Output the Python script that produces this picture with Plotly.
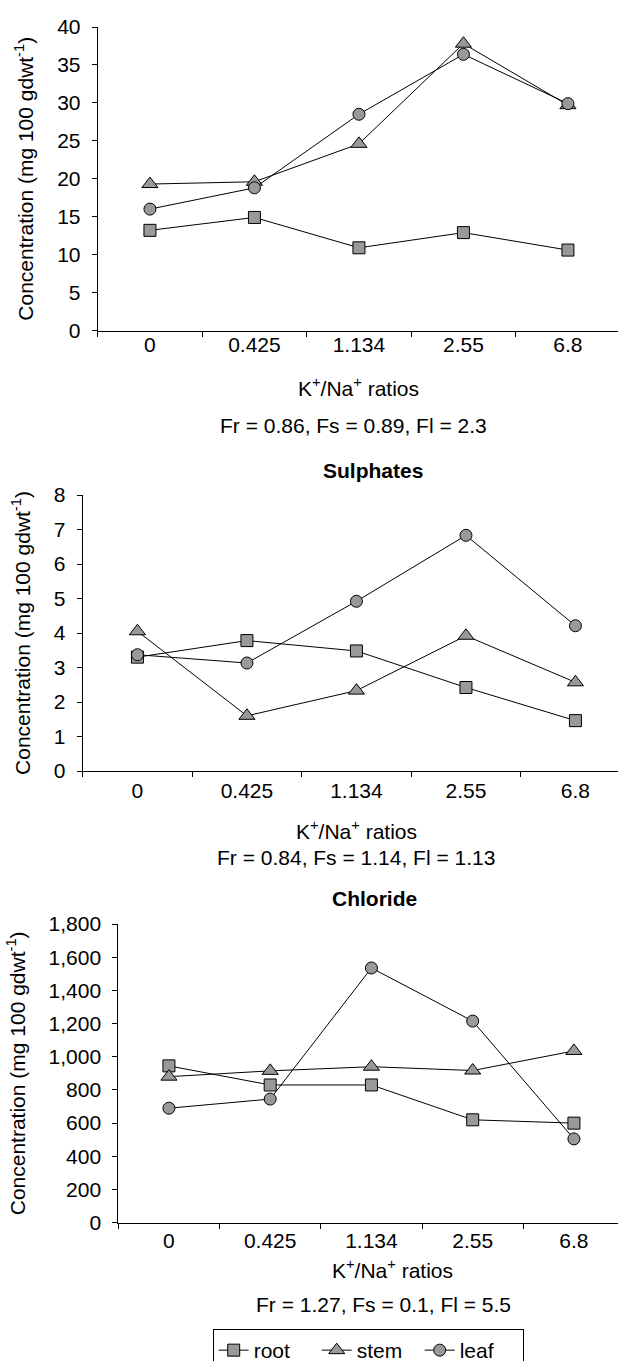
import plotly.graph_objects as go

# ---------------- data ----------------
categories = ["0", "0.425", "1.134", "2.55", "6.8"]
series_names = ["root", "stem", "leaf"]

top_root = [13.2, 14.9, 10.9, 12.9, 10.6]
top_stem = [19.3, 19.6, 24.6, 37.8, 29.7]
top_leaf = [16.0, 18.8, 28.5, 36.4, 29.9]

sul_root = [3.3, 3.78, 3.48, 2.42, 1.46]
sul_stem = [4.05, 1.6, 2.33, 3.92, 2.57]
sul_leaf = [3.37, 3.13, 4.92, 6.83, 4.21]

chl_root = [945, 830, 830, 620, 600]
chl_stem = [880, 915, 940, 917, 1035]
chl_leaf = [690, 745, 1535, 1215, 505]

panel_titles = ["", "Sulphates", "Chloride"]
stats_text = ["Fr = 0.86, Fs = 0.89, Fl = 2.3",
              "Fr = 0.84, Fs = 1.14, Fl = 1.13",
              "Fr = 1.27, Fs = 0.1, Fl = 5.5"]
y_max = [40, 8, 1800]
y_dtick = [5, 1, 200]

# ---------------- layout constants ----------------
W, H = 618, 1361
FONT = "Liberation Sans, Arial, Helvetica, sans-serif"
FS = 21
MARKER_FILL = "#999999"
symbols = ["square", "triangle-up", "circle"]
msizes = [12, 14, 12]

# pixel geometry of each panel: (axis_left, plot_top, plot_bottom, category_spacing)
panels = [(97.7, 27.0, 330.5, 104.5),
          (82.7, 495.0, 771.0, 109.5),
          (118.3, 924.0, 1222.7, 101.25)]
xtitle_pos = [(358, 386.7), (356, 830), (392, 1269.3)]
stats_pos = [(353, 425), (356, 857), (383, 1304.3)]
ptitle_pos = [None, (373, 471), (375, 898)]
xlabel_standoff = [-5, 1, -1]


def px(x):
    return x / W


def py(y):
    return 1 - y / H


data_sets = [[top_root, top_stem, top_leaf],
             [sul_root, sul_stem, sul_leaf],
             [chl_root, chl_stem, chl_leaf]]

fig = go.Figure()
annotations = []

for i, (vals, geom) in enumerate(zip(data_sets, panels)):
    axl, ptop, pbot, spacing = geom
    xa = "x" if i == 0 else f"x{i+1}"
    ya = "y" if i == 0 else f"y{i+1}"
    for k, name in enumerate(series_names):
        fig.add_trace(go.Scatter(
            x=categories, y=vals[k], name=name, mode="lines+markers",
            xaxis=xa, yaxis=ya, legendgroup=name, showlegend=(i == 0),
            line=dict(color="black", width=1),
            marker=dict(symbol=symbols[k], size=msizes[k], color=MARKER_FILL,
                        line=dict(color="black", width=1)),
            cliponaxis=False,
        ))
    xend = -0.5 + (W - axl) / spacing
    xkey = "xaxis" if i == 0 else f"xaxis{i+1}"
    ykey = "yaxis" if i == 0 else f"yaxis{i+1}"
    fig.layout[xkey] = dict(
        domain=[px(axl), 1.0], anchor=ya, type="category",
        range=[-0.5, xend], tickson="boundaries", ticks="outside",
        ticklen=5, tickcolor="black", showline=True, linecolor="black",
        linewidth=1, showgrid=False, zeroline=False, automargin=False,
        ticklabelstandoff=xlabel_standoff[i],
        tickfont=dict(family=FONT, size=FS, color="black"),
    )
    fig.layout[ykey] = dict(
        domain=[py(pbot), py(ptop)], anchor=xa, range=[0, y_max[i]],
        dtick=y_dtick[i], tick0=0, tickformat=",d", ticks="outside",
        ticklen=5, tickcolor="black", showline=True, linecolor="black",
        linewidth=1, showgrid=False, zeroline=False, automargin=False,
        ticklabelstandoff=7,
        tickfont=dict(family=FONT, size=FS, color="black"),
        title=dict(text="Concentration (mg 100 gdwt<sup>-1</sup>)",
                   font=dict(family=FONT, size=FS, color="black"),
                   standoff=17),
    )
    tx, ty = xtitle_pos[i]
    annotations.append(dict(text="K<sup>+</sup>/Na<sup>+</sup> ratios",
                            x=px(tx), y=py(ty), xref="paper", yref="paper",
                            xanchor="center", yanchor="middle", showarrow=False,
                            font=dict(family=FONT, size=FS, color="black")))
    sx, sy = stats_pos[i]
    annotations.append(dict(text=stats_text[i], x=px(sx), y=py(sy),
                            xref="paper", yref="paper", xanchor="center",
                            yanchor="middle", showarrow=False,
                            font=dict(family=FONT, size=FS, color="black")))
    if ptitle_pos[i] is not None:
        qx, qy = ptitle_pos[i]
        annotations.append(dict(text="<b>" + panel_titles[i] + "</b>",
                                x=px(qx), y=py(qy), xref="paper", yref="paper",
                                xanchor="center", yanchor="middle",
                                showarrow=False,
                                font=dict(family=FONT, size=FS, color="black")))

fig.update_layout(
    width=W, height=H,
    margin=dict(l=0, r=0, t=0, b=0, autoexpand=False),
    paper_bgcolor="white", plot_bgcolor="white",
    font=dict(family=FONT, size=FS, color="black"),
    annotations=annotations,
    showlegend=True,
    legend=dict(orientation="h", x=px(212.7), xanchor="left",
                y=py(1329), yanchor="top", bordercolor="black",
                borderwidth=1, bgcolor="white", traceorder="normal",
                font=dict(family=FONT, size=FS, color="black"),
                itemwidth=30, entrywidth=58, entrywidthmode="pixels"),
)

fig.write_html("out.html",
               config={"displayModeBar": False},
               post_script="document.body.style.margin='0';"
                           "document.body.style.padding='0';")
